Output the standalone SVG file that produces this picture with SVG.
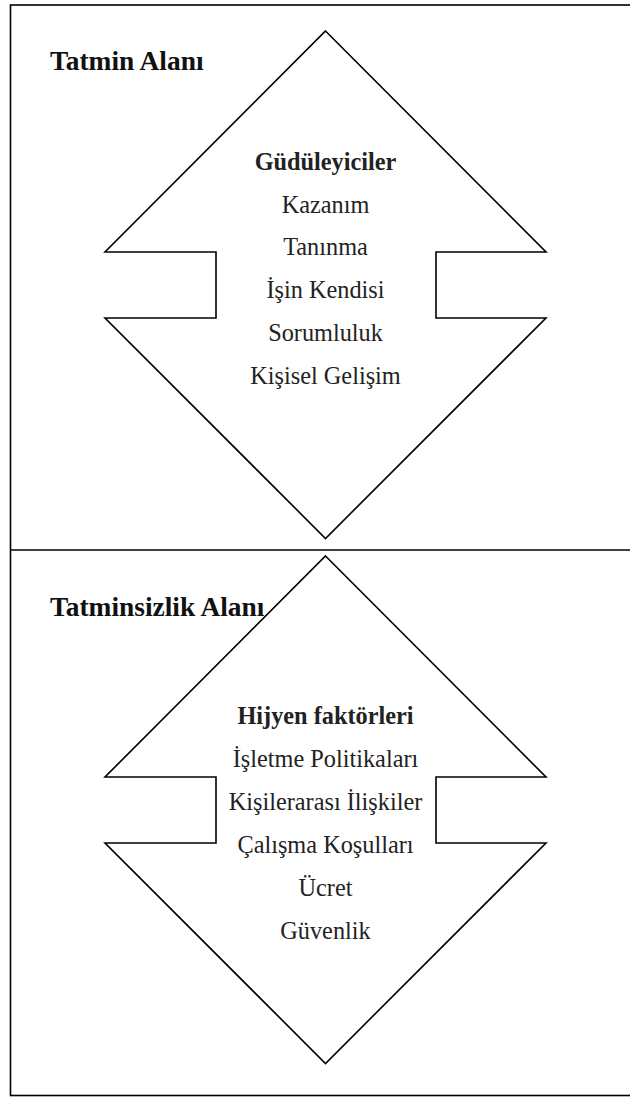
<svg xmlns="http://www.w3.org/2000/svg" width="630" height="1097" viewBox="0 0 630 1097">
<style>
.shape{fill:#fff;stroke:#000;stroke-width:1.6;stroke-linejoin:miter}
.frame{fill:none;stroke:#000;stroke-width:1.6}
.t{font-family:"Liberation Serif","Times New Roman",serif;font-size:24.3px;fill:#222;text-anchor:middle}
.b{font-weight:bold}
.title{font-family:"Liberation Serif","Times New Roman",serif;font-size:27.4px;font-weight:bold;fill:#111}
</style>
<rect width="630" height="1097" fill="#fff"/>
<g id="frame">
<rect class="frame" x="10.5" y="5" width="640" height="1090.5"/>
<line class="frame" x1="10.5" y1="550" x2="630" y2="550" stroke-width="2"/>
</g>
<g id="satisfaction">
<path class="shape" d="M325.5,31 L546,252 L436,252 L436,318 L546,318 L325.5,538.5 L105,318 L216,318 L216,252 L105,252 Z"/>
<text class="title" x="50" y="69.5">Tatmin Alanı</text>
<text class="t b" x="325.5" y="170">Güdüleyiciler</text>
<text class="t" x="325.5" y="213">Kazanım</text>
<text class="t" x="325.5" y="255">Tanınma</text>
<text class="t" x="325.5" y="298">İşin Kendisi</text>
<text class="t" x="325.5" y="341">Sorumluluk</text>
<text class="t" x="325.5" y="384">Kişisel Gelişim</text>
</g>
<g id="dissatisfaction">
<path class="shape" d="M325.5,556 L546,777 L436,777 L436,843 L546,843 L325.5,1063.5 L105,843 L216,843 L216,777 L105,777 Z"/>
<text class="title" x="50" y="616">Tatminsizlik Alanı</text>
<text class="t b" x="325.5" y="724">Hijyen faktörleri</text>
<text class="t" x="325.5" y="767">İşletme Politikaları</text>
<text class="t" x="325.5" y="810">Kişilerarası İlişkiler</text>
<text class="t" x="325.5" y="853">Çalışma Koşulları</text>
<text class="t" x="325.5" y="896">Ücret</text>
<text class="t" x="325.5" y="939">Güvenlik</text>
</g>
<g id="connectors"></g>
</svg>
